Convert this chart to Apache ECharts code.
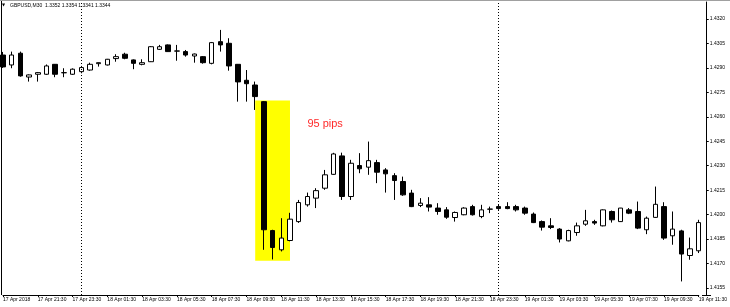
<!DOCTYPE html>
<html><head><meta charset="utf-8">
<script src="https://cdn.jsdelivr.net/npm/echarts@6/dist/echarts.min.js"></script>
<style>html,body{margin:0;padding:0;background:#fff}#c{width:730px;height:307px}</style>
</head><body><div id="c"></div><script>
const categories = [
'17 Apr 19:30','17 Apr 20:00','17 Apr 20:30','17 Apr 21:00','17 Apr 21:30','17 Apr 22:00','17 Apr 22:30','17 Apr 23:00','17 Apr 23:30',
'18 Apr 00:00','18 Apr 00:30','18 Apr 01:00','18 Apr 01:30','18 Apr 02:00','18 Apr 02:30','18 Apr 03:00','18 Apr 03:30',
'18 Apr 04:00','18 Apr 04:30','18 Apr 05:00','18 Apr 05:30','18 Apr 06:00','18 Apr 06:30','18 Apr 07:00','18 Apr 07:30',
'18 Apr 08:00','18 Apr 08:30','18 Apr 09:00','18 Apr 09:30','18 Apr 10:00','18 Apr 10:30','18 Apr 11:00','18 Apr 11:30',
'18 Apr 12:00','18 Apr 12:30','18 Apr 13:00','18 Apr 13:30','18 Apr 14:00','18 Apr 14:30','18 Apr 15:00','18 Apr 15:30',
'18 Apr 16:00','18 Apr 16:30','18 Apr 17:00','18 Apr 17:30','18 Apr 18:00','18 Apr 18:30','18 Apr 19:00','18 Apr 19:30',
'18 Apr 20:00','18 Apr 20:30','18 Apr 21:00','18 Apr 21:30','18 Apr 22:00','18 Apr 22:30','18 Apr 23:00','18 Apr 23:30',
'19 Apr 00:00','19 Apr 00:30','19 Apr 01:00','19 Apr 01:30','19 Apr 02:00','19 Apr 02:30','19 Apr 03:00','19 Apr 03:30',
'19 Apr 04:00','19 Apr 04:30','19 Apr 05:00','19 Apr 05:30','19 Apr 06:00','19 Apr 06:30','19 Apr 07:00','19 Apr 07:30',
'19 Apr 08:00','19 Apr 08:30','19 Apr 09:00','19 Apr 09:30','19 Apr 10:00','19 Apr 10:30','19 Apr 11:00','19 Apr 11:30'
];
const firstLabel = '17 Apr 2018';
const openValues = [
1.42979,1.42918,1.42990,1.42844,1.42861,1.42861,1.42922,1.42871,1.42861,1.42877,
1.42887,1.42926,1.42918,1.42957,1.42984,1.42949,1.42922,1.42938,1.43014,1.43041,
1.43004,1.43000,1.42973,1.42969,1.42928,1.43061,1.43051,1.42922,1.42824,1.42795,
1.42693,1.41902,1.41784,1.41841,1.41957,1.42060,1.42101,1.42162,1.42247,1.42360,
1.42111,1.42301,1.42291,1.42319,1.42274,1.42239,1.42203,1.42132,1.42056,1.42060,
1.42040,1.42029,1.41982,1.41999,1.42049,1.41988,1.42033,1.42049,1.42049,1.42049,
1.42040,1.42003,1.41957,1.41931,1.41911,1.41839,1.41890,1.41941,1.41957,1.41931,
1.42019,1.41957,1.42029,1.42019,1.41907,1.41983,1.42049,1.41870,1.41900,1.41749,
1.41778];
const closeValues = [
1.42906,1.42979,1.42851,1.42857,1.42871,1.42912,1.42861,1.42870,1.42892,1.42902,
1.42922,1.42932,1.42953,1.42969,1.42959,1.42928,1.42932,1.43030,1.43030,1.43000,
1.43003,1.42979,1.42985,1.42932,1.43055,1.43041,1.42912,1.42814,1.42803,1.42724,
1.41907,1.41798,1.41856,1.41972,1.42074,1.42111,1.42147,1.42244,1.42372,1.42111,
1.42315,1.42281,1.42331,1.42260,1.42250,1.42209,1.42121,1.42049,1.42070,1.42046,
1.42019,1.41984,1.42013,1.42040,1.41999,1.42029,1.42034,1.42037,1.42037,1.42029,
1.42009,1.41951,1.41923,1.41921,1.41850,1.41902,1.41931,1.41962,1.41948,1.42029,
1.41968,1.42040,1.42009,1.41917,1.41978,1.42063,1.41856,1.41911,1.41758,1.41790,
1.41951];
const lowValues = [
1.42900,1.42898,1.42846,1.42816,1.42816,1.42857,1.42843,1.42843,1.42857,1.42867,
1.42883,1.42908,1.42915,1.42938,1.42953,1.42892,1.42916,1.42936,1.43010,1.42998,
1.42944,1.42969,1.42932,1.42926,1.42922,1.43000,1.42883,1.42693,1.42693,1.42642,
1.41784,1.41725,1.41774,1.41836,1.41949,1.42049,1.42040,1.42152,1.42244,1.42090,
1.42090,1.42254,1.42244,1.42193,1.42135,1.42090,1.42115,1.42046,1.42046,1.42019,
1.41999,1.41974,1.41957,1.41996,1.41994,1.41978,1.42009,1.42029,1.42033,1.42019,
1.41999,1.41948,1.41902,1.41911,1.41829,1.41836,1.41870,1.41931,1.41937,1.41928,
1.41951,1.41955,1.42003,1.41911,1.41880,1.41980,1.41845,1.41815,1.41590,1.41723,
1.41764];
const highValues = [
1.42998,1.43000,1.43000,1.42860,1.42875,1.42921,1.42924,1.42898,1.42897,1.42912,
1.42932,1.42933,1.42955,1.42984,1.42993,1.42952,1.42953,1.43034,1.43041,1.43044,
1.43041,1.43010,1.42988,1.42973,1.43059,1.43133,1.43082,1.42924,1.42887,1.42816,
1.42697,1.41907,1.41978,1.42011,1.42090,1.42135,1.42162,1.42274,1.42379,1.42380,
1.42336,1.42377,1.42448,1.42336,1.42285,1.42254,1.42233,1.42152,1.42101,1.42107,
1.42070,1.42046,1.42019,1.42045,1.42060,1.42060,1.42049,1.42060,1.42076,1.42060,
1.42049,1.42013,1.41964,1.41978,1.41917,1.41907,1.41951,1.42029,1.41968,1.42032,
1.42025,1.42041,1.42040,1.42080,1.41988,1.42172,1.42076,1.42019,1.41907,1.41859,
1.41968];
const yTickValues = [1.4155,1.4170,1.4185,1.4200,1.4215,1.4230,1.4245,1.4260,1.4275,1.4290,1.4305,1.4320];
const separators = ['18 Apr 00:00','19 Apr 00:00'];
const highlightFrom = ['18 Apr 10:00', 1.4270];
const highlightTo = ['18 Apr 12:00', 1.41717];
const noteText = '95 pips';
const notePos = ['18 Apr 13:00', 1.42556];
const headerText = 'GBPUSD,M30  1.3352 1.3354 1.3341 1.3344';

const FONT = 'Liberation Sans';
const candleData = openValues.map((o, i) => [o, closeValues[i], lowValues[i], highValues[i]]);

const chart = echarts.init(document.getElementById('c'), null, {renderer: 'canvas'});
chart.setOption({
  animation: false,
  backgroundColor: '#ffffff',
  grid: {left: 2, top: 2, width: 700, height: 293, containLabel: false},
  xAxis: {
    type: 'category', data: categories, boundaryGap: false,
    axisLine: {show: true, lineStyle: {color: '#000', width: 1}},
    axisTick: {show: true, interval: 3, length: 2, lineStyle: {color: '#000'}},
    axisLabel: {show: true, interval: 3, align: 'left', margin: 2, fontSize: 5, fontFamily: FONT, color: '#000',
      showMaxLabel: true, showMinLabel: true,
      formatter: (v, idx) => idx === 0 ? firstLabel : v},
    splitLine: {show: false}
  },
  yAxis: {
    type: 'value', position: 'right', offset: 8,
    min: 1.415067, max: 1.433043,
    axisLine: {show: true, lineStyle: {color: '#000', width: 1}},
    axisTick: {show: true, length: 2, customValues: yTickValues, lineStyle: {color: '#000'}},
    axisLabel: {show: true, customValues: yTickValues, margin: 3, fontSize: 5, fontFamily: FONT, color: '#000',
      formatter: v => Number(v).toFixed(4)},
    splitLine: {show: false}
  },
  series: [{
    type: 'candlestick',
    data: candleData,
    barWidth: 5,
    itemStyle: {color: '#ffffff', color0: '#000000', borderColor: '#000000', borderColor0: '#000000', borderWidth: 1},
    markArea: {
      silent: true,
      itemStyle: {color: '#ffff00', opacity: 1},
      data: [[{xAxis: highlightFrom[0], yAxis: highlightFrom[1]}, {xAxis: highlightTo[0], yAxis: highlightTo[1]}]]
    },
    markLine: {
      silent: true, symbol: ['none', 'none'], label: {show: false},
      lineStyle: {color: '#000', width: 1, type: [1, 2]},
      data: separators.map(s => ({xAxis: s}))
    },
    markPoint: {
      silent: true,
      data: [{coord: notePos, symbol: 'circle', symbolSize: 0,
        label: {show: true, position: 'right', distance: 0, formatter: noteText, color: '#ff2a2a', fontSize: 11, fontFamily: FONT}}]
    }
  }],
  graphic: [
    {type: 'line', shape: {x1: 0, y1: 0.5, x2: 730, y2: 0.5}, style: {stroke: '#a0a0a0', lineWidth: 1}},
    {type: 'line', shape: {x1: 1.5, y1: 1, x2: 1.5, y2: 295}, style: {stroke: '#000', lineWidth: 1}},
    {type: 'line', shape: {x1: 702, y1: 295.5, x2: 711, y2: 295.5}, style: {stroke: '#000', lineWidth: 1}},
    {type: 'text', left: 2, top: 3, style: {text: '\u25BC', fontSize: 4, fill: '#000', fontFamily: 'DejaVu Sans'}},
    {type: 'text', left: 10, top: 3, style: {text: headerText, fontSize: 5, fill: '#000', fontFamily: FONT}}
  ]
});
</script></body></html>
